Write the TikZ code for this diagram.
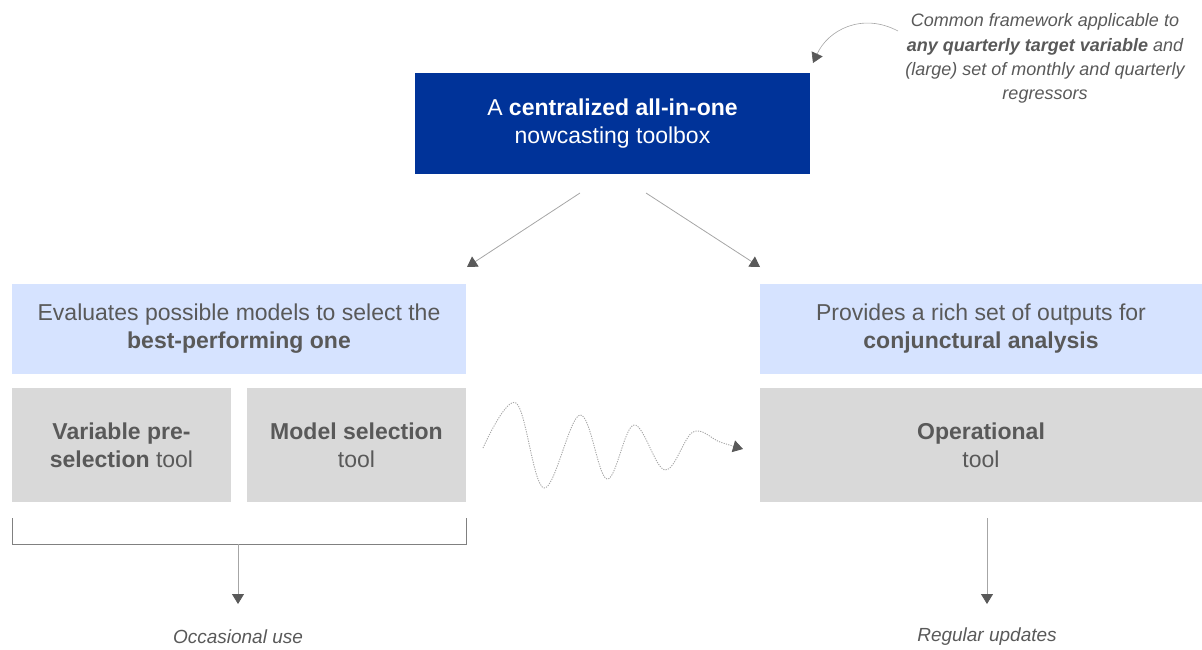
\documentclass[tikz,border=0pt]{standalone}
\usepackage{fontspec}
\setmainfont{Liberation Sans}
\usetikzlibrary{arrows.meta}
\definecolor{navy}{RGB}{0,51,153}
\definecolor{lblue}{RGB}{214,227,255}
\definecolor{lgray}{RGB}{217,217,217}
\definecolor{tgray}{RGB}{89,89,89}
\definecolor{lineg}{RGB}{166,166,166}
\definecolor{brk}{RGB}{128,128,128}
\definecolor{tipg}{RGB}{89,89,89}
\begin{document}
\begin{tikzpicture}[x=1pt,y=-1pt,
  boxbase/.style={rectangle, inner sep=0pt, align=center, text=tgray, font=\fontsize{23}{28}\selectfont},
  bluebox/.style={boxbase, fill=navy, text=white, minimum width=395pt, minimum height=101pt},
  lightbox/.style={boxbase, fill=lblue, minimum height=90pt},
  graybox/.style={boxbase, fill=lgray, minimum height=114pt},
  note/.style={align=center, text=tgray, font=\fontsize{18}{24.3}\selectfont\itshape},
  conn/.style={draw=lineg, line width=0.8pt, -{Triangle[length=10pt,width=12pt,color=tipg]}},
  wave/.style={draw=lineg, line width=0.9pt, dash pattern=on 1.2pt off 1.2pt, -{Triangle[length=10pt,width=12pt,color=tipg]}}
]
\useasboundingbox (0,0) rectangle (1202,649);

\node[bluebox] (top) at (612.5,123.5) {A \textbf{centralized all-in-one}\\nowcasting toolbox};

\node[note] (ann) at (1045,58.5) {Common framework applicable to\\\textbf{any quarterly target variable} and\\(large) set of monthly and quarterly\\regressors};

\node[lightbox, minimum width=454pt] (evl) at (239,329) {Evaluates possible models to select the\\\textbf{best-performing one}};
\node[lightbox, minimum width=442pt] (evr) at (981,329) {Provides a rich set of outputs for\\\textbf{conjunctural analysis}};

\node[graybox, minimum width=219pt] (var) at (121.5,445) {\textbf{Variable pre-}\\\textbf{selection} tool};
\node[graybox, minimum width=219pt] (mod) at (356.5,445) {\textbf{Model selection}\\tool};
\node[graybox, minimum width=442pt] (ops) at (981,445) {\textbf{Operational}\\tool};

\node[note, font=\fontsize{19}{22}\selectfont\itshape] (occ) at (238,637) {Occasional use};
\node[note, font=\fontsize{19}{22}\selectfont\itshape] (reg) at (987,637) {Regular updates};

% arrows from top box
\coordinate (tl) at (580,193);
\coordinate (tr) at (646,193);
\coordinate (al) at (467,267);
\coordinate (ar) at (760,267);
\draw[conn] (tl) -- (al);
\draw[conn] (tr) -- (ar);

% annotation curved arrow
\coordinate (as) at (898,31);
\coordinate (ae) at (813,63);
\draw[conn, line width=0.6pt] (as) .. controls (862,12) and (828,30) .. (ae);

% wavy arrow
\draw[wave] plot[smooth, tension=0.6] coordinates {(483,448) (516,403) (544,488) (580,415) (607,479) (634,425) (665,470) (693,432) (720,442) (743,449)};

% bracket
\coordinate (b1) at (12,518);
\coordinate (b2) at (466,518);
\coordinate (bm) at (238,544);
\coordinate (bme) at (238,604);
\coordinate (rs) at (987,518);
\coordinate (rse) at (987,604);
\draw[draw=brk, line width=0.8pt] (b1) -- (12,544) -- (466,544) -- (b2);
\draw[conn] (bm) -- (bme);
\draw[conn] (rs) -- (rse);
\end{tikzpicture}
\end{document}
